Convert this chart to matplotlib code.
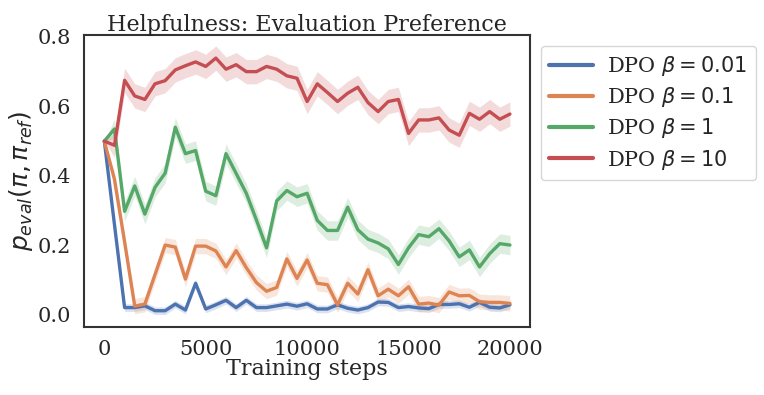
import matplotlib
matplotlib.use('Agg')
import matplotlib.pyplot as plt
import numpy as np
import seaborn as sns

sns.set_theme(style='white')
plt.rcParams['font.family'] = ['DejaVu Serif']
plt.rcParams['mathtext.fontset'] = 'dejavusans'

# training steps (every 500)
steps = np.arange(0, 20001, 500)

labels = [r'DPO $\beta = 0.01$', r'DPO $\beta = 0.1$', r'DPO $\beta = 1$', r'DPO $\beta = 10$']

beta_001 = [0.50, 0.26, 0.021, 0.021, 0.026, 0.012, 0.012, 0.031, 0.014, 0.091,
            0.017, 0.029, 0.042, 0.021, 0.042, 0.021, 0.021, 0.026, 0.031, 0.025,
            0.032, 0.017, 0.017, 0.029, 0.019, 0.014, 0.021, 0.037, 0.036, 0.021,
            0.024, 0.020, 0.018, 0.030, 0.030, 0.032, 0.022, 0.036, 0.022, 0.020,
            0.029]
beta_01 = [0.50, 0.39, 0.21, 0.025, 0.031, 0.116, 0.201, 0.195, 0.103, 0.198,
           0.198, 0.184, 0.138, 0.185, 0.136, 0.093, 0.068, 0.079, 0.161, 0.105,
           0.158, 0.091, 0.087, 0.029, 0.091, 0.060, 0.130, 0.055, 0.074, 0.055,
           0.081, 0.031, 0.034, 0.028, 0.066, 0.055, 0.056, 0.038, 0.036, 0.036,
           0.033]
beta_1 = [0.50, 0.535, 0.298, 0.371, 0.290, 0.367, 0.408, 0.540, 0.464, 0.473,
          0.356, 0.343, 0.464, 0.407, 0.350, 0.273, 0.193, 0.328, 0.358, 0.340,
          0.350, 0.272, 0.243, 0.243, 0.310, 0.245, 0.218, 0.207, 0.190, 0.145,
          0.193, 0.231, 0.225, 0.248, 0.213, 0.167, 0.187, 0.138, 0.176, 0.205,
          0.201]
beta_10 = [0.50, 0.488, 0.675, 0.630, 0.620, 0.665, 0.674, 0.705, 0.717, 0.728,
           0.715, 0.739, 0.707, 0.720, 0.700, 0.700, 0.715, 0.707, 0.688, 0.681,
           0.614, 0.665, 0.640, 0.614, 0.638, 0.655, 0.611, 0.585, 0.614, 0.620,
           0.522, 0.561, 0.561, 0.567, 0.532, 0.517, 0.580, 0.563, 0.585, 0.563,
           0.578]

# half width of the shaded band for each run
band = [0.011, 0.022, 0.028, 0.035]

series = [beta_001, beta_01, beta_1, beta_10]
colors = sns.color_palette('deep', 4)

fig, ax = plt.subplots(figsize=(7.64, 3.95), dpi=100)
fig.subplots_adjust(left=0.110, right=0.694, top=0.911, bottom=0.172)

for vals, lab, c, w in zip(series, labels, colors, band):
    vals = np.array(vals)
    hw = np.full(len(vals), w)
    hw[0] = 0.0
    ax.fill_between(steps, vals - hw, vals + hw, color=c, alpha=0.2, linewidth=0)
    ax.plot(steps, vals, color=c, lw=2.4, label=lab)

ax.set_xlim(-1000, 21000)
ax.set_ylim(-0.035, 0.805)
ax.set_xticks([0, 5000, 10000, 15000, 20000])
ax.set_yticks([0.0, 0.2, 0.4, 0.6, 0.8])
ax.tick_params(labelsize=15, pad=3.5)

for s in ax.spines.values():
    s.set_color('#333333')
    s.set_linewidth(1.5)

ax.set_title('Helpfulness: Evaluation Preference', fontsize=16, pad=3)
ax.set_xlabel('Training steps', fontsize=16, labelpad=-1)
ax.set_ylabel(r'$p_{eval}(\pi, \pi_{ref})$', fontsize=18, labelpad=2)

leg = ax.legend(loc='upper left', bbox_to_anchor=(1.0, 1.0), fontsize=15,
                handlelength=2.1, handletextpad=0.7, labelspacing=0.35,
                frameon=True)
for line in leg.get_lines():
    line.set_linewidth(3)

fig.savefig('out.png', dpi=100)
